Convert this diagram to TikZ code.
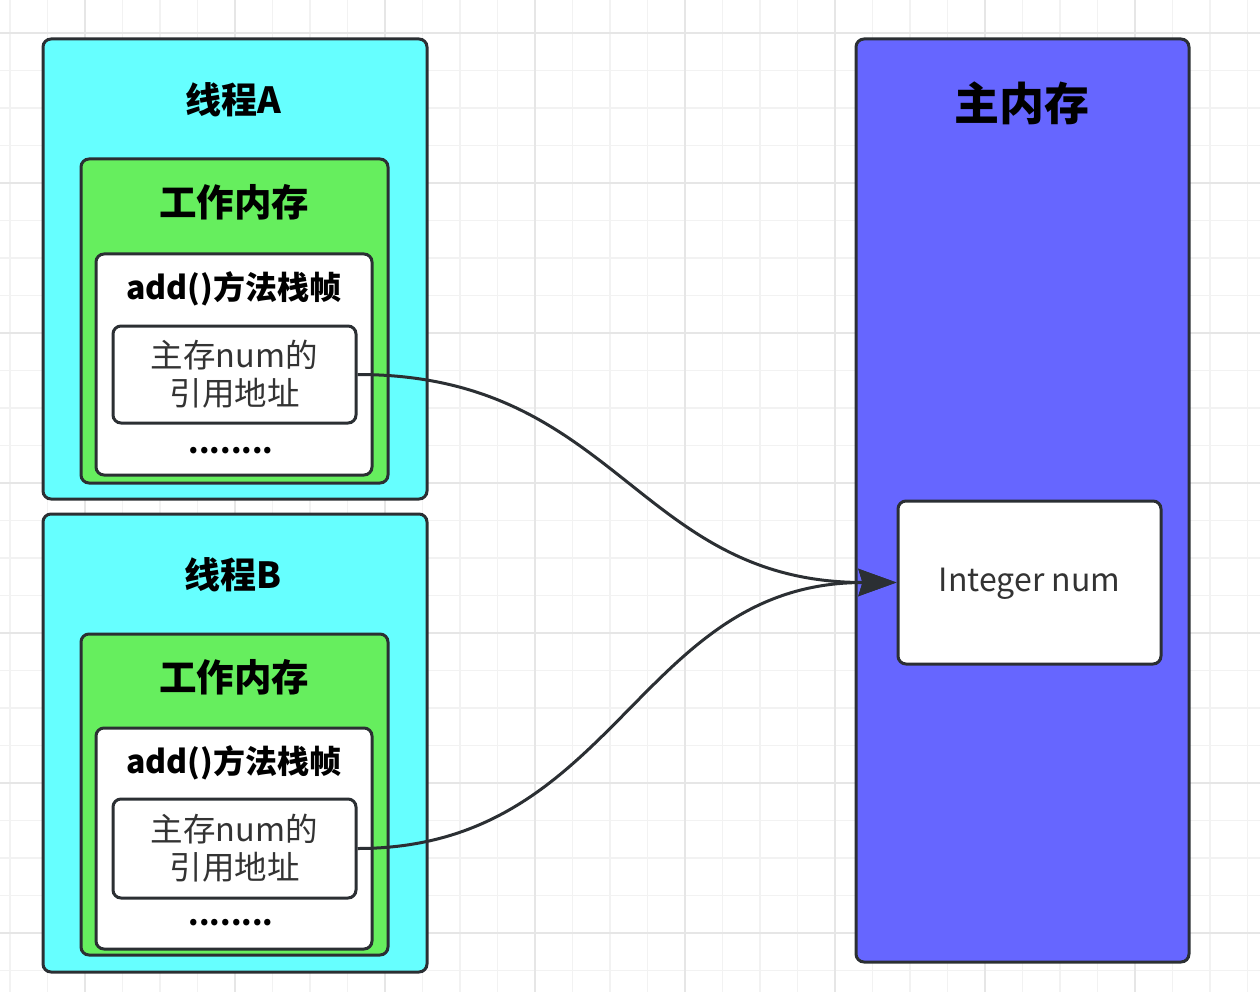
\documentclass[tikz,border=0pt]{standalone}
\usepackage{fontspec}
\setmainfont{Noto Sans CJK SC}
\usetikzlibrary{arrows.meta}
\definecolor{gridminor}{HTML}{F2F2F2}
\definecolor{gridmajor}{HTML}{E6E6E6}
\definecolor{edge}{HTML}{2B2F33}
\definecolor{threadfill}{HTML}{66FFFF}
\definecolor{workfill}{HTML}{66EE5E}
\definecolor{mainfill}{HTML}{6666FF}
\definecolor{txt}{HTML}{333333}
\tikzset{
  box/.style={draw=edge, line width=3pt, rounded corners=8pt, anchor=center, inner sep=0pt},
  threadbox/.style={box, fill=threadfill},
  workbox/.style={box, fill=workfill},
  whitebox/.style={box, fill=white},
  mainbox/.style={box, fill=mainfill},
  ttl/.style={font=\bfseries\fontsize{36}{40}\selectfont, text=black},
  wttl/.style={font=\bfseries\fontsize{37.5}{42}\selectfont, text=black},
  fttl/.style={font=\bfseries\fontsize{32}{36}\selectfont, text=black},
  reftxt/.style={font=\fontsize{32.5}{38}\selectfont, text=txt, align=center},
  dots/.style={font=\bfseries\fontsize{30}{34}\selectfont, text=black},
  conn/.style={draw=edge, line width=3pt, -{Stealth[length=38pt,width=27pt,inset=4pt]}}
}
\begin{document}
\begin{tikzpicture}[x=1pt,y=-1pt]
\useasboundingbox (0,0) rectangle (1260,992);
% grid
\foreach \i in {0,...,33} {
  \pgfmathsetmacro{\gx}{10+37.5*\i}
  \draw[gridminor, line width=1.2pt] (\gx,0) -- (\gx,992);
}
\foreach \j in {0,...,26} {
  \pgfmathsetmacro{\gy}{-4.5+37.5*\j}
  \draw[gridminor, line width=1.2pt] (0,\gy) -- (1260,\gy);
}
\foreach \i in {0,...,8} {
  \pgfmathsetmacro{\gx}{85+150*\i}
  \draw[gridmajor, line width=1.2pt] (\gx,0) -- (\gx,992);
}
\foreach \j in {0,...,6} {
  \pgfmathsetmacro{\gy}{33+150*\j}
  \draw[gridmajor, line width=1.2pt] (0,\gy) -- (1260,\gy);
}

% main memory
\node[mainbox, minimum width=333pt, minimum height=923pt] (mm) at (1022.5,500.5) {};
\node[font=\bfseries\fontsize{45}{50}\selectfont, text=black] (mmt) at (1022,103) {主内存};
\node[whitebox, minimum width=263pt, minimum height=163pt] (int) at (1029.5,582.5) {};
\node[font=\fontsize{32}{36}\selectfont, text=txt] (intt) at (1029.5,584) {Integer num};

% thread A
\node[threadbox, minimum width=384pt, minimum height=460pt] (tA) at (235,269) {};
\node[ttl] (tAt) at (233,100) {线程A};
\node[workbox, minimum width=307pt, minimum height=324pt] (wA) at (234.5,321) {};
\node[wttl] (wAt) at (234,202) {工作内存};
\node[whitebox, minimum width=276pt, minimum height=221pt] (fA) at (234,364.5) {};
\node[fttl] (fAt) at (234,289) {add()方法栈帧};
\node[whitebox, minimum width=243pt, minimum height=97pt] (rA) at (234.5,374.5) {};
\node[reftxt] (rAt) at (234.5,374.5) {主存num的\\引用地址};
\node[dots] (dA) at (231,451) {........};

% thread B
\node[threadbox, minimum width=384pt, minimum height=458pt] (tB) at (235,743) {};
\node[ttl] (tBt) at (233,575) {线程B};
\node[workbox, minimum width=307pt, minimum height=321pt] (wB) at (234.5,794.5) {};
\node[wttl] (wBt) at (234,677) {工作内存};
\node[whitebox, minimum width=276pt, minimum height=221pt] (fB) at (234,838.5) {};
\node[fttl] (fBt) at (234,763) {add()方法栈帧};
\node[whitebox, minimum width=243pt, minimum height=99pt] (rB) at (234.5,848.5) {};
\node[reftxt] (rBt) at (234.5,848.5) {主存num的\\引用地址};
\node[dots] (dB) at (231,923) {........};

% connectors
\draw[conn] (rA.east) .. controls +(260,0) and +(-260,0) .. (int.west);
\draw[conn] (rB.east) .. controls +(260,0) and +(-260,0) .. (int.west);
\end{tikzpicture}
\end{document}
